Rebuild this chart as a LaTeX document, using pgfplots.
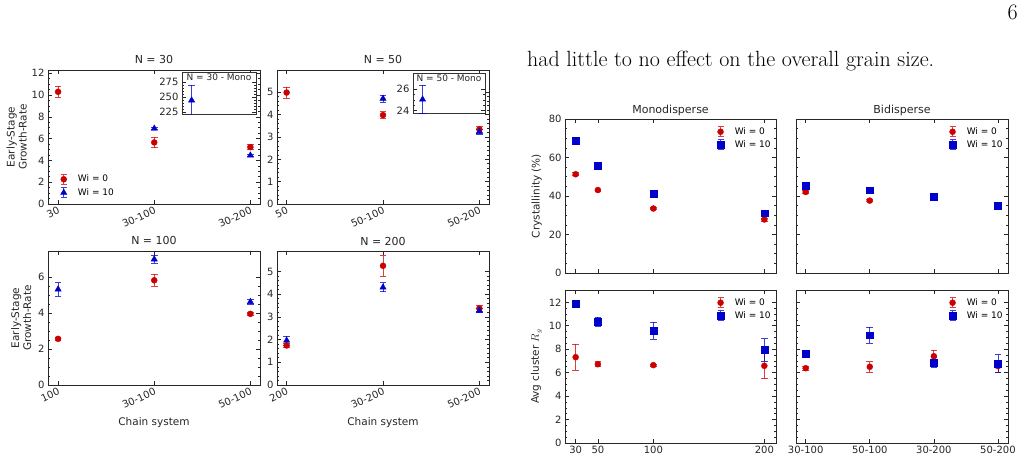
\documentclass[border=0pt]{standalone}
\usepackage{fontspec}
\usepackage{pgfplots}
\pgfplotsset{compat=1.18}
\newfontfamily\dv{DejaVu Sans}
\definecolor{mred}{RGB}{204,0,0}
\definecolor{mblue}{RGB}{0,0,204}
\pgfplotsset{
  base/.style={
    scale only axis, anchor=south west,
    axis line style={line width=0.8pt, black!85},
    tick style={black!85, line width=0.6pt},
    major tick length=4pt, minor tick length=2pt,
    tick align=inside,
    /pgf/number format/assume math mode=true,
    ticklabel style={font=\dv\fontsize{10}{11}\selectfont, text=black!85},
    label style={font=\dv\fontsize{10.5}{12}\selectfont, text=black!85},
    every axis title/.style={at={(0.5,1)}, anchor=base, yshift=6pt, font=\dv\fontsize{11}{12}\selectfont, text=black!85},
    legend cell align=left,
  },
  rotlab/.style={xticklabel style={rotate=25, anchor=north east, inner sep=1.5pt}, xlabel style={yshift=-3pt}},
  ebleg/.style={legend image code/.code={
     \path (0.3cm-8pt,0pt) (0.3cm+12pt,0pt);
     \draw[##1, line width=0.8pt, opacity=0.75] (0.3cm,-5pt)--(0.3cm,5pt) (0.3cm-3pt,-5pt)--(0.3cm+3pt,-5pt) (0.3cm-3pt,5pt)--(0.3cm+3pt,5pt);
     \draw[##1] plot coordinates {(0.3cm,0pt)};}},
  ebar/.style={error bars/.cd, y dir=both, y explicit,
     error bar style={line width=0.8pt, #1, opacity=0.75},
     error mark options={rotate=90, mark size=3.3pt, line width=0.8pt, #1, opacity=0.75}},
  r0/.style={only marks, mark=*, mark size=3pt, color=mred, mark options={fill=mred, draw=mred}, ebleg, ebar=mred},
  bt/.style={only marks, mark=triangle*, mark size=3.6pt, color=mblue, mark options={fill=mblue, draw=mblue}, ebleg, ebar=mblue},
  bs/.style={only marks, mark=square*, mark size=3.4pt, color=mblue, mark options={fill=mblue, draw=mblue}, ebleg, ebar=mblue},
  lgL/.style={legend style={at={(0.03,0.03)}, anchor=south west, draw=none, fill=none, font=\dv\fontsize{9}{10}\selectfont, row sep=1pt, inner sep=1pt}},
  lgR/.style={legend style={at={(0.99,0.965)}, anchor=north east, draw=none, fill=none, font=\dv\fontsize{9}{10}\selectfont, row sep=0.5pt, inner sep=1pt}},
  inset/.style={base, xmin=0, xmax=1, xtick=\empty, axis background/.style={fill=white}, axis line style={line width=1pt, black!80}},
}
\begin{document}
\begin{tikzpicture}
\useasboundingbox (0,0) rectangle (1024pt,457pt);
% text
\node[anchor=base west, inner sep=0pt, font=\fontsize{22}{26}\selectfont] at (527pt,390pt) {had little to no effect on the overall grain size.};
\node[anchor=base east, inner sep=0pt, font=\fontsize{22}{26}\selectfont] at (1018pt,437pt) {6};

% ---------- N = 30 ----------
\begin{axis}[base, rotlab, lgL, at={(48pt,253pt)}, width=212pt, height=134pt,
  xmin=-0.105, xmax=2.1, ymin=0, ymax=12.3,
  xtick={0,1,2}, xticklabels={30,30-100,30-200},
  ytick={0,2,...,12}, minor y tick num=3,
  title={N = 30}, ylabel={Early-Stage\\Growth-Rate}, ylabel style={align=center, xshift=0pt, yshift=-2pt}]
\addplot[r0] coordinates {(0,10.3) +- (0,0.5) (1,5.65) +- (0,0.5) (2,5.22) +- (0,0.25)};
\addlegendentry{Wi = 0}
\addplot[bt] coordinates {(1,6.93) +- (0,0.12) (2,4.46) +- (0,0.1)};
\addlegendentry{Wi = 10}
\end{axis}
\begin{axis}[inset, at={(182pt,342pt)}, width=74pt, height=42pt,
  ymin=220.5, ymax=290.5, ytick={225,250,275}, minor y tick num=4]
\addplot[bt] coordinates {(0.13,245) +- (0,25)};
\node[anchor=north, inner sep=1pt, font=\dv\fontsize{9}{10}\selectfont, text=black!85] at (rel axis cs:0.5,1) {N = 30 - Mono};
\end{axis}

% ---------- N = 50 ----------
\begin{axis}[base, rotlab, at={(277pt,253pt)}, width=212pt, height=134pt,
  xmin=-0.1, xmax=2.1, ymin=0, ymax=6.0,
  xtick={0,1,2}, xticklabels={50,50-100,50-200},
  ytick={0,1,...,5}, minor y tick num=4, title={N = 50}]
\addplot[r0] coordinates {(0,4.99) +- (0,0.25) (1,3.98) +- (0,0.15) (2,3.34) +- (0,0.15)};
\addplot[bt] coordinates {(1,4.72) +- (0,0.15) (2,3.23) +- (0,0.1)};
\end{axis}
\begin{axis}[inset, at={(413pt,343pt)}, width=72pt, height=40pt,
  ymin=23.7, ymax=27.4, ytick={24,26}, minor y tick num=3]
\addplot[bt] coordinates {(0.133,25.05) +- (0,1.3)};
\node[anchor=north, inner sep=1pt, font=\dv\fontsize{9}{10}\selectfont, text=black!85] at (rel axis cs:0.5,1) {N = 50 - Mono};
\end{axis}

% ---------- N = 100 ----------
\begin{axis}[base, rotlab, at={(48pt,72pt)}, width=212pt, height=134pt,
  xmin=-0.105, xmax=2.1, ymin=0, ymax=7.46,
  xtick={0,1,2}, xticklabels={100,30-100,50-100},
  ytick={0,2,...,6}, minor y tick num=3,
  title={N = 100}, xlabel={Chain system}, ylabel={Early-Stage\\Growth-Rate}, ylabel style={align=center}]
\addplot[r0] coordinates {(0,2.57) +- (0,0.08) (1,5.83) +- (0,0.33) (2,3.96) +- (0,0.1)};
\addplot[bt] coordinates {(0,5.33) +- (0,0.37) (1,7.0) +- (0,0.22) (2,4.63) +- (0,0.12)};
\end{axis}

% ---------- N = 200 ----------
\begin{axis}[base, rotlab, at={(277pt,72pt)}, width=212pt, height=134pt,
  xmin=-0.1, xmax=2.1, ymin=0, ymax=5.9,
  xtick={0,1,2}, xticklabels={200,30-200,50-200},
  ytick={0,1,...,5}, minor y tick num=4,
  title={N = 200}, xlabel={Chain system}]
\addplot[r0] coordinates {(0,1.74) +- (0,0.08) (1,5.25) +- (0,0.45) (2,3.37) +- (0,0.12)};
\addplot[bt] coordinates {(0,1.96) +- (0,0.2) (1,4.30) +- (0,0.2) (2,3.28) +- (0,0.1)};
\end{axis}

% ---------- Monodisperse crystallinity ----------
\begin{axis}[base, lgR, at={(565pt,184pt)}, width=211pt, height=154pt,
  xmin=20.4, xmax=210.5, ymin=0, ymax=80,
  xtick={30,50,100,200}, xticklabels={},
  ytick={0,20,...,80}, minor y tick num=3,
  title={Monodisperse}, ylabel={Crystallinity (\%)}]
\addplot[r0] coordinates {(30,51.3) +- (0,0.8) (50,43.1) +- (0,0.5) (100,33.5) +- (0,0.5) (200,27.8) +- (0,0.8)};
\addlegendentry{Wi = 0}
\addplot[bs] coordinates {(30,68.6) +- (0,1.5) (50,55.9) +- (0,0.7) (100,41.4) +- (0,0.7) (200,31.1) +- (0,0.7)};
\addlegendentry{Wi = 10}
\end{axis}

% ---------- Bidisperse crystallinity ----------
\begin{axis}[base, lgR, at={(796pt,184pt)}, width=212pt, height=154pt,
  xmin=-0.151, xmax=3.157, ymin=0, ymax=80,
  xtick={0,1,2,3}, xticklabels={},
  ytick={0,20,...,80}, yticklabels={}, minor y tick num=3,
  title={Bidisperse}]
\addplot[r0] coordinates {(0,42.1) +- (0,0.7) (1,37.6) +- (0,0.5) (2,39.5) +- (0,0.5) (3,34.4) +- (0,0.5)};
\addlegendentry{Wi = 0}
\addplot[bs] coordinates {(0,45.2) +- (0,0.7) (1,43.0) +- (0,0.7) (2,39.7) +- (0,0.7) (3,35.0) +- (0,0.7)};
\addlegendentry{Wi = 10}
\end{axis}

% ---------- Monodisperse Rg ----------
\begin{axis}[base, lgR, at={(565pt,14pt)}, width=211pt, height=153pt,
  xmin=20.4, xmax=210.5, ymin=0, ymax=13.05,
  xtick={30,50,100,200},
  ytick={0,2,...,12}, minor y tick num=3,
  ylabel={Avg cluster $R_g$}]
\addplot[r0] coordinates {(30,7.32) +- (0,1.1) (50,6.72) +- (0,0.2) (100,6.64) +- (0,0.08) (200,6.58) +- (0,1.1)};
\addlegendentry{Wi = 0}
\addplot[bs] coordinates {(30,11.91) +- (0,0.2) (50,10.35) +- (0,0.4) (100,9.56) +- (0,0.72) (200,7.94) +- (0,0.97)};
\addlegendentry{Wi = 10}
\end{axis}

% ---------- Bidisperse Rg ----------
\begin{axis}[base, lgR, at={(796pt,14pt)}, width=212pt, height=153pt,
  xmin=-0.151, xmax=3.157, ymin=0, ymax=13.05,
  xtick={0,1,2,3}, xticklabels={30-100,50-100,30-200,50-200},
  ytick={0,2,...,12}, yticklabels={}, minor y tick num=3]
\addplot[r0] coordinates {(0,6.38) +- (0,0.15) (1,6.5) +- (0,0.45) (2,7.40) +- (0,0.5) (3,6.55) +- (0,0.5)};
\addlegendentry{Wi = 0}
\addplot[bs] coordinates {(0,7.6) +- (0,0.15) (1,9.19) +- (0,0.68) (2,6.87) +- (0,0.4) (3,6.78) +- (0,0.75)};
\addlegendentry{Wi = 10}
\end{axis}
\end{tikzpicture}
\end{document}
